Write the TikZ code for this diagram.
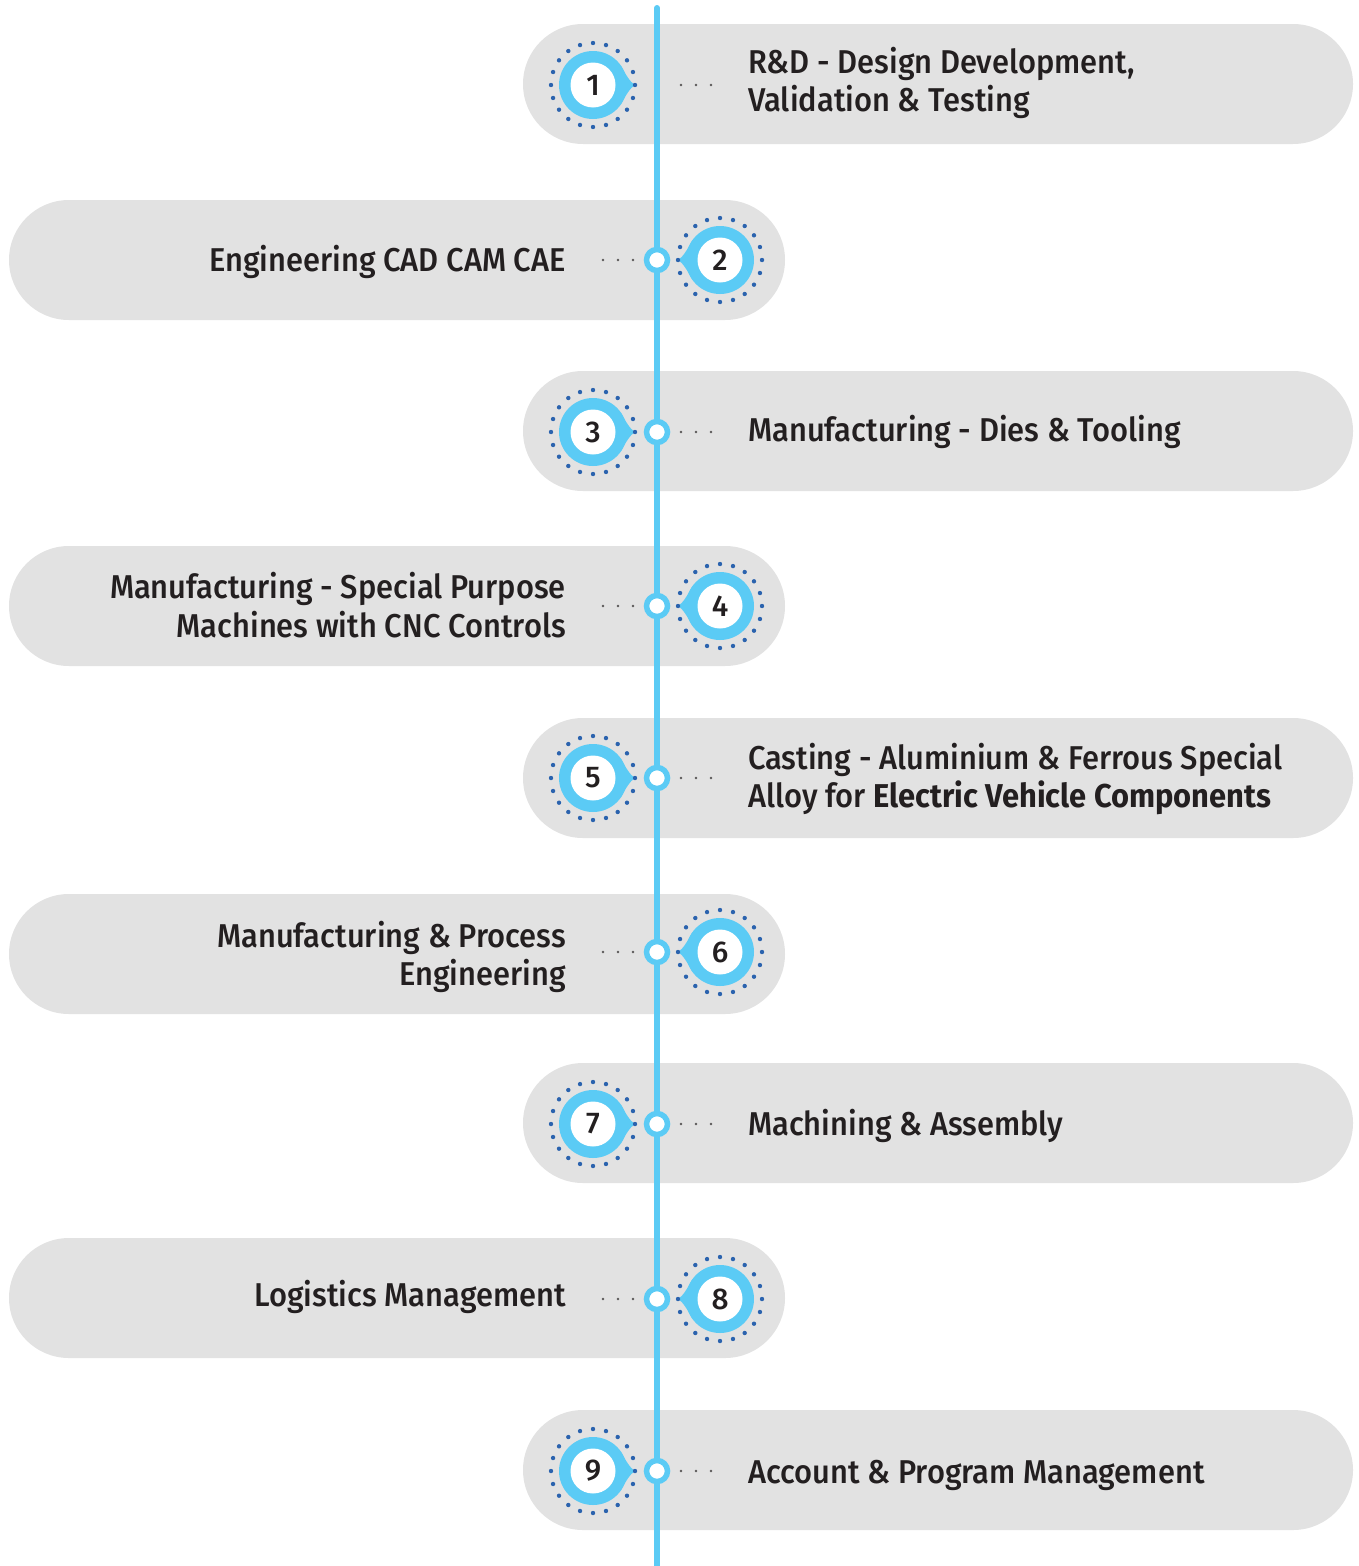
\documentclass[tikz,border=0pt]{standalone}
\usepackage{fontspec}
\setmainfont{Fira Sans}[UprightFont=* Medium, BoldFont=* Bold, FakeStretch=0.935]
\newfontfamily\numfont{Fira Sans Medium}
\definecolor{lb}{HTML}{5BCBF5}
\definecolor{db}{HTML}{2B63AE}
\definecolor{pillc}{HTML}{E2E2E2}
\definecolor{txt}{HTML}{231F20}
\tikzset{
  pill/.style={fill=pillc, rounded corners=59.9pt},
  lbl/.style={font=\fontsize{33}{38.5}\selectfont, text=txt, inner sep=0pt},
  ring/.style={circle, fill=white, draw=lb, line width=5.5pt, minimum size=21pt, inner sep=0pt},
  numc/.style={circle, fill=white, minimum size=45pt, inner sep=0pt, text=txt, font=\numfont\fontsize{30}{30}\selectfont},
  sdot/.style={fill=txt!75},
  axis/.style={draw=lb, line width=6pt, line cap=round}
}
\newcommand\mybadge[5]{%
  \begin{scope}[shift={(#2,#3)}, xscale=#5]
    \fill[lb] (0,0) circle (34);
    \fill[lb] (42,0) .. controls (37,3) and (33,10) .. (27.5,20) -- (27.5,-20) .. controls (33,-10) and (37,-3) .. (42,0) -- cycle;
    \foreach \a in {0,18,...,342} \fill[db] (\a:42) circle (2.2);
  \end{scope}
  \node[numc] (#1) at (#2,#3) {#4};
}
\newcommand\threedots[2]{%
  \foreach \dx in {0,15,30} \fill[sdot] (#1+\dx,#2) circle (1.3);
}
\begin{document}
\begin{tikzpicture}[x=1pt,y=-1pt]
\useasboundingbox (0,0) rectangle (1359,1566);
% pills
\fill[pill] (523,24) rectangle (1353,144);
\fill[pill] (9,200) rectangle (785,320);
\fill[pill] (523,371) rectangle (1353,491);
\fill[pill] (9,546) rectangle (785,666);
\fill[pill] (523,718) rectangle (1353,838);
\fill[pill] (9,894) rectangle (785,1014);
\fill[pill] (523,1063) rectangle (1353,1183);
\fill[pill] (9,1238) rectangle (785,1358);
\fill[pill] (523,1410) rectangle (1353,1530);
% axis
\coordinate (top) at (657,8);
\coordinate (bot) at (657,1570);
\draw[axis] (top) -- (bot);
% badges
\mybadge{b1}{593}{85}{1}{1}
\mybadge{b2}{720}{260}{2}{-1}
\mybadge{b3}{593}{432}{3}{1}
\mybadge{b4}{720}{606}{4}{-1}
\mybadge{b5}{593}{778}{5}{1}
\mybadge{b6}{720}{952}{6}{-1}
\mybadge{b7}{593}{1124}{7}{1}
\mybadge{b8}{720}{1299}{8}{-1}
\mybadge{b9}{593}{1471}{9}{1}
% rings on axis
\node[ring] (r2) at (657,260) {};
\node[ring] (r3) at (657,432) {};
\node[ring] (r4) at (657,606) {};
\node[ring] (r5) at (657,778) {};
\node[ring] (r6) at (657,952) {};
\node[ring] (r7) at (657,1124) {};
\node[ring] (r8) at (657,1299) {};
\node[ring] (r9) at (657,1471) {};
% small dots
\threedots{681}{85}
\threedots{603}{260}
\threedots{681}{432}
\threedots{603}{606}
\threedots{681}{778}
\threedots{603}{952}
\threedots{681}{1124}
\threedots{603}{1299}
\threedots{681}{1471}
% labels
\node[lbl, anchor=west, align=left] (t1) at (748,83) {R\&D - Design Development,\\Validation \& Testing};
\node[lbl, anchor=east, align=right] (t2) at (566,262) {Engineering CAD CAM CAE};
\node[lbl, anchor=west, align=left] (t3) at (748,432) {Manufacturing - Dies \& Tooling};
\node[lbl, anchor=east, align=right] (t4) at (566,605) {Manufacturing - Special Purpose\\Machines with CNC Controls};
\node[lbl, anchor=west, align=left] (t5) at (748,779) {Casting - Aluminium \& Ferrous Special\\Alloy for \textbf{Electric Vehicle Components}};
\node[lbl, anchor=east, align=right] (t6) at (566,957) {Manufacturing \& Process\\Engineering};
\node[lbl, anchor=west, align=left] (t7) at (748,1126) {Machining \& Assembly};
\node[lbl, anchor=east, align=right] (t8) at (566,1297) {Logistics Management};
\node[lbl, anchor=west, align=left] (t9) at (748,1475) {Account \& Program Management};
\end{tikzpicture}
\end{document}
